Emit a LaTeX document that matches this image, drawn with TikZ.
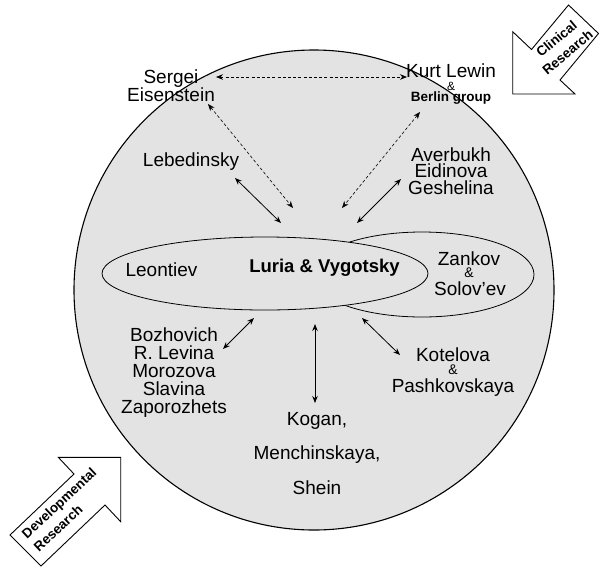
\documentclass[tikz,border=0pt]{standalone}
\usepackage{fontspec}
\setmainfont{Liberation Sans}
\usetikzlibrary{arrows.meta}

\begin{document}
\begin{tikzpicture}[x=1pt,y=-1pt,
  lbl/.style={align=center, inner sep=0pt, font=\fontsize{19}{18}\selectfont},
  tip/.tip={Stealth[length=7pt,width=5.5pt]},
  twoway/.style={tip-tip, line width=0.8pt},
  dashway/.style={tip-tip, line width=0.6pt, dash pattern=on 3pt off 2.2pt},
  blockarrow/.style={draw=black, fill=white, line width=0.9pt, line join=miter},
  arrowtext/.style={inner sep=0pt, font=\bfseries\fontsize{13.5}{17.5}\selectfont},
  stipple/.style={fill=black!11, draw=black}
]
\useasboundingbox (0,0) rectangle (599,568);

% the large circle of research
\path[stipple, line width=1.1pt] (314,290) circle [radius=240];

% the two overlapping ellipses
\path[stipple, line width=0.8pt] (422,274.5) ellipse [x radius=112, y radius=42.5];
\path[stipple, line width=0.8pt] (265,273.5) ellipse [x radius=163, y radius=36.5];

% block arrows
\draw[blockarrow] (512.7,31.7) -- (531.5,49.5) -- (568.5,5) -- (598.5,33.5)
  -- (560,80) -- (575,94) -- (512.7,94) -- cycle;
\node[arrowtext, align=center, rotate=40] (clin) at (562,45.5) {Clinical\\Research};

\draw[blockarrow] (58.3,457.3) -- (74,474) -- (10,535) -- (41,566)
  -- (105,505) -- (120.7,521.7) -- (120.7,457.3) -- cycle;
\node[arrowtext, align=left, rotate=43] (dev) at (65,509.5) {Developmental\\Research};

% labels
\node[lbl] (eis) at (171,86) {Sergei\\Eisenstein};
\node[lbl] (lewin) at (451,71) {Kurt Lewin};
\node[inner sep=0pt, font=\fontsize{12}{12}\selectfont] (amp1) at (451,86) {\&};
\node[inner sep=0pt, font=\bfseries\fontsize{13.5}{13.5}\selectfont] (berlin) at (451,98) {Berlin group};
\node[lbl] (leb) at (191,162) {Lebedinsky};
\node[lbl, font=\fontsize{19}{16.5}\selectfont] (aver) at (451,171) {Averbukh\\Eidinova\\Geshelina};
\node[lbl] (leon) at (161.5,270) {Leontiev};
\node[lbl, font=\bfseries\fontsize{18.5}{18.5}\selectfont] (lv) at (324.5,268) {Luria \& Vygotsky};
\node[lbl] (zan) at (469,259) {Zankov};
\node[inner sep=0pt, font=\fontsize{14}{14}\selectfont] (amp2) at (469,273) {\&};
\node[lbl] (sol) at (470,289) {Solov'ev};
\node[lbl] (boz) at (174,373) {Bozhovich\\R. Levina\\Morozova\\Slavina\\Zaporozhets};
\node[lbl] (kot) at (453,355) {Kotelova};
\node[inner sep=0pt, font=\fontsize{14}{14}\selectfont] (amp3) at (453,370) {\&};
\node[lbl] (pas) at (453,388) {Pashkovskaya};
\node[lbl, font=\fontsize{19}{34.5}\selectfont] (kog) at (317,453.5) {Kogan,\\Menchinskaya,\\Shein};

% connector ends
\coordinate (eisR) at (216,77);
\coordinate (lewL) at (407,77);
\coordinate (eisD) at (208,104);
\coordinate (coreA) at (293,208);
\coordinate (berD) at (420,112);
\coordinate (coreB) at (342,208);
\coordinate (lebD) at (235,178);
\coordinate (coreC) at (281,223);
\coordinate (averD) at (401,179);
\coordinate (coreD) at (357,223);
\coordinate (bozU) at (223,349);
\coordinate (coreE) at (254,318);
\coordinate (coreF) at (315,324);
\coordinate (kogU) at (315,403);
\coordinate (coreG) at (362,318);
\coordinate (kotU) at (400,355);

% dashed links
\draw[dashway] (eisR) -- (lewL);
\draw[dashway] (eisD) -- (coreA);
\draw[dashway] (berD) -- (coreB);

% solid links
\draw[twoway] (lebD) -- (coreC);
\draw[twoway] (averD) -- (coreD);
\draw[twoway] (bozU) -- (coreE);
\draw[twoway] (coreF) -- (kogU);
\draw[twoway] (coreG) -- (kotU);
\end{tikzpicture}
\end{document}
